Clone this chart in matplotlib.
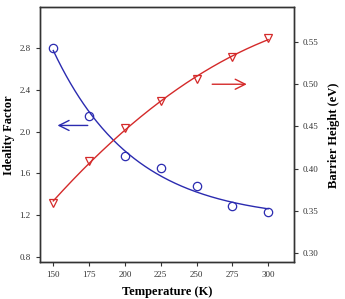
import matplotlib
matplotlib.use('Agg')
import matplotlib.pyplot as plt
import numpy as np

# data
temperature = [150, 175, 200, 225, 250, 275, 300]
ideality_factor = [2.80, 2.15, 1.77, 1.65, 1.48, 1.29, 1.23]
barrier_height = [0.359, 0.409, 0.448, 0.480, 0.506, 0.532, 0.555]

plt.rcParams['font.family'] = ['Liberation Serif', 'DejaVu Serif']


def exp_decay_fit(x, y):
    # y = y0 + A*exp(-(x-x0)/tau), best tau by grid search, y0 and A by least squares
    x = np.asarray(x, dtype=float)
    y = np.asarray(y, dtype=float)
    best = None
    for tau in np.linspace(10, 300, 600):
        m = np.column_stack([np.ones_like(x), np.exp(-(x - x[0]) / tau)])
        coef, res, _, _ = np.linalg.lstsq(m, y, rcond=None)
        err = np.sum((m @ coef - y) ** 2)
        if best is None or err < best[0]:
            best = (err, tau, coef)
    _, tau, coef = best
    return lambda xx: coef[0] + coef[1] * np.exp(-(xx - x[0]) / tau)


fig, ax = plt.subplots(figsize=(3.45, 2.99), dpi=100)
fig.subplots_adjust(left=0.115, right=0.852, top=0.975, bottom=0.123)
ax2 = ax.twinx()

tt = np.linspace(150, 300, 200)
fit_n = exp_decay_fit(temperature, ideality_factor)
fit_b = np.polyfit(temperature, barrier_height, 2)

ax.plot(tt, fit_n(tt), color='#2b2bb0', lw=1.0)
ax.plot(temperature, ideality_factor, 'o', ms=6, mfc='none', mec='#2b2bb0', mew=0.9)
ax2.plot(tt, np.polyval(fit_b, tt), color='#d42a2a', lw=1.0)
ax2.plot(temperature, barrier_height, 'v', ms=5.5, mfc='none', mec='#d42a2a', mew=0.9)

ax.annotate('', xy=(151, 2.06), xytext=(176, 2.06),
            arrowprops=dict(arrowstyle='->', color='#2b2bb0', lw=1.0, mutation_scale=18))
ax2.annotate('', xy=(287, 0.50), xytext=(259, 0.50),
             arrowprops=dict(arrowstyle='->', color='#d42a2a', lw=1.0, mutation_scale=18))

ax.set_xlim(140.5, 318)
ax.set_ylim(0.75, 3.19)
ax2.set_ylim(0.289, 0.591)
ax.set_xticks(temperature)
ax.set_yticks([0.8, 1.2, 1.6, 2.0, 2.4, 2.8])
ax2.set_yticks([0.30, 0.35, 0.40, 0.45, 0.50, 0.55])
ax.set_yticklabels(['%.1f' % v for v in ax.get_yticks()])
ax2.set_yticklabels(['%.2f' % v for v in ax2.get_yticks()])

for a in (ax, ax2):
    a.tick_params(labelsize=6.5, direction='out', length=3, width=0.8, colors='#333333')
    for s in a.spines.values():
        s.set_linewidth(1.0)
        s.set_color('#333333')

ax.set_xlabel('Temperature (K)', fontsize=9, fontweight='bold', labelpad=5)
ax.set_ylabel('Ideality Factor', fontsize=9, fontweight='bold', labelpad=3)
ax2.set_ylabel('Barrier Height (eV)', fontsize=9, fontweight='bold', labelpad=7)

fig.savefig('out.png', dpi=100)
